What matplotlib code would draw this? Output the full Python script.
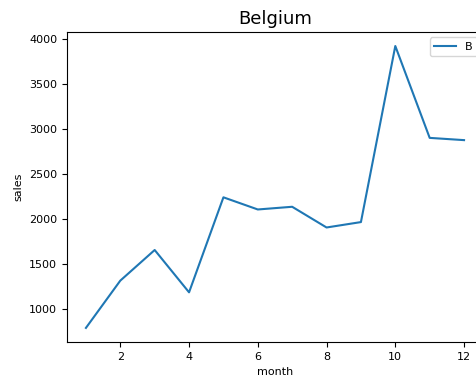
import matplotlib
matplotlib.use("Agg")
import matplotlib.pyplot as plt

months = [1, 2, 3, 4, 5, 6, 7, 8, 9, 10, 11, 12]
sales = [795, 1320, 1660, 1190, 2245, 2110, 2140, 1910, 1970, 3925, 2905, 2880]

fig = plt.figure(figsize=(4.77, 3.80), dpi=100)
# axes runs past the right edge of the figure
ax = fig.add_axes([0.1405, 0.1, 0.872, 0.816])
ax.plot(months, sales, color="#1f77b4", linewidth=1.5)
ax.set_title("Belgium", fontsize=13)
ax.set_xlabel("month", fontsize=8)
ax.set_ylabel("sales", fontsize=8)
ax.tick_params(labelsize=8)
ax.legend("Belgium", loc="upper right", fontsize=8)

fig.savefig("out.png", dpi=100)
